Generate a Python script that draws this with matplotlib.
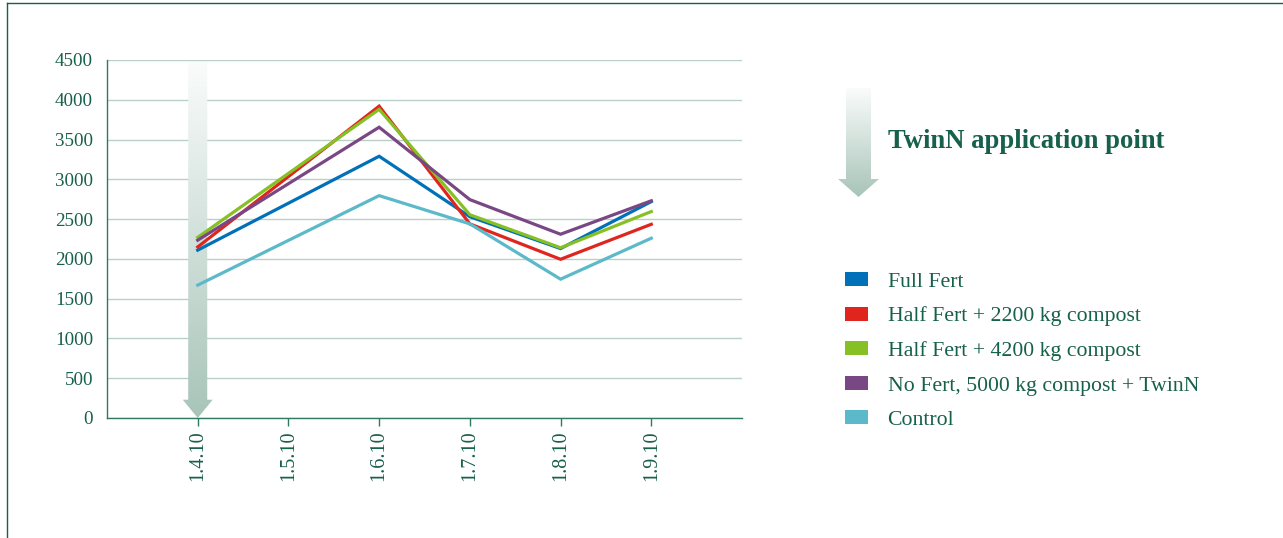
import matplotlib
matplotlib.use("Agg")
import matplotlib.pyplot as plt
import numpy as np
from matplotlib.patches import Polygon, Patch
from matplotlib.lines import Line2D

# data
dates = ["1.4.10", "1.5.10", "1.6.10", "1.7.10", "1.8.10", "1.9.10"]
sample_dates = ["1.4.10", "1.6.10", "1.7.10", "1.8.10", "1.9.10"]  # no sampling on 1.5.10
series_names = [
    "Full Fert",
    "Half Fert + 2200 kg compost",
    "Half Fert + 4200 kg compost",
    "No Fert, 5000 kg compost + TwinN",
    "Control",
]
full_fert = [2110, 3290, 2530, 2130, 2720]
half_2200 = [2150, 3920, 2440, 1995, 2435]
half_4200 = [2270, 3880, 2555, 2140, 2595]
no_fert_twinn = [2235, 3655, 2745, 2310, 2730]
control = [1670, 2795, 2440, 1745, 2260]
application_date = "1.4.10"

series = [full_fert, half_2200, half_4200, no_fert_twinn, control]
colors = ["#0070b8", "#e0251f", "#86c024", "#7a4785", "#5cb9ca"]

GREEN = "#17604b"
W, H = 1283, 538
plt.rcParams["font.family"] = ["Liberation Serif", "DejaVu Serif"]

fig = plt.figure(figsize=(W / 100, H / 100), dpi=100)
ax = fig.add_axes([107 / W, 1 - 418 / H, 635 / W, 358 / H])

xpos = {d: i for i, d in enumerate(dates)}
xs = [xpos[d] for d in sample_dates]
for vals, name, c in zip(series, series_names, colors):
    ax.plot(xs, vals, color=c, lw=2.3, label=name, zorder=3, solid_joinstyle="miter")

ax.set_xlim(-1, len(dates))
ax.set_ylim(0, 4500)
ax.set_yticks(np.arange(0, 4501, 500))
ax.set_xticks(range(len(dates)))
ax.set_xticklabels(dates, rotation=90)
ax.grid(axis="y", color="#b9d0c8", lw=1.0, zorder=0)
ax.set_axisbelow(True)
for s in ["top", "right"]:
    ax.spines[s].set_visible(False)
for s in ["left", "bottom"]:
    ax.spines[s].set_color("#2f7a63")
    ax.spines[s].set_linewidth(1.0)
ax.tick_params(axis="y", length=0, pad=10, labelsize=13.7, labelcolor=GREEN)
ax.tick_params(axis="x", length=6, width=1, color="#2f7a63", pad=3, labelsize=14.5, labelcolor=GREEN)


def gradient_arrow(a, transform, x0, ytop, ybot, shaft_w, head_w, head_h, z):
    xl, xr = x0 - shaft_w / 2, x0 + shaft_w / 2
    hl, hr = x0 - head_w / 2, x0 + head_w / 2
    yh = ybot + head_h if ybot < ytop else ybot - head_h
    poly = Polygon([(xl, ytop), (xr, ytop), (xr, yh), (hr, yh), (x0, ybot),
                    (hl, yh), (xl, yh)], closed=True, transform=transform,
                   facecolor="none", edgecolor="none")
    a.add_patch(poly)
    top = np.array([250, 252, 251]) / 255
    bot = np.array([168, 196, 185]) / 255
    t = np.linspace(0, 1, 256)[:, None]
    grad = (top[None, :] * (1 - t) + bot[None, :] * t)[:, None, :]
    im = a.imshow(grad, extent=[hl, hr, ybot, ytop], origin="upper", aspect="auto",
                  zorder=z, interpolation="bilinear", transform=transform)
    im.set_clip_path(poly)
    return im


# application arrow in the chart
x_app = xpos[application_date]
gradient_arrow(ax, ax.transData, x_app, 4475, 0, 0.21, 0.33, 230, 2)
ax.set_xlim(-1, len(dates))
ax.set_ylim(0, 4500)

# overlay axes in pixel coords for the key arrow
ov = fig.add_axes([0, 0, 1, 1], zorder=-1)
ov.set_xlim(0, W)
ov.set_ylim(H, 0)
ov.axis("off")
gradient_arrow(ov, ov.transData, 858.5, 88, 197, 25, 41, 18, 1)
ov.set_xlim(0, W)
ov.set_ylim(H, 0)

# frame
fig.add_artist(Line2D([7 / W, 7 / W], [0, 1 - 3 / H], color=GREEN, lw=1.0))
fig.add_artist(Line2D([7 / W, 1], [1 - 3 / H, 1 - 3 / H], color=GREEN, lw=1.0))

fig.text(888 / W, 1 - 141 / H, "TwinN application point", fontsize=19.2,
         fontweight="bold", color=GREEN, va="center", ha="left")

handles = [Patch(facecolor=c, edgecolor="none") for c in colors]
leg = fig.legend(handles, series_names, loc="upper left",
                 bbox_to_anchor=(845 / W, 1 - 272 / H), frameon=False,
                 fontsize=15.7, handlelength=1.05, handleheight=0.6,
                 handletextpad=0.9, labelspacing=0.68, borderpad=0,
                 borderaxespad=0)
for t in leg.get_texts():
    t.set_color(GREEN)

fig.savefig("out.png", dpi=100, facecolor="white")
